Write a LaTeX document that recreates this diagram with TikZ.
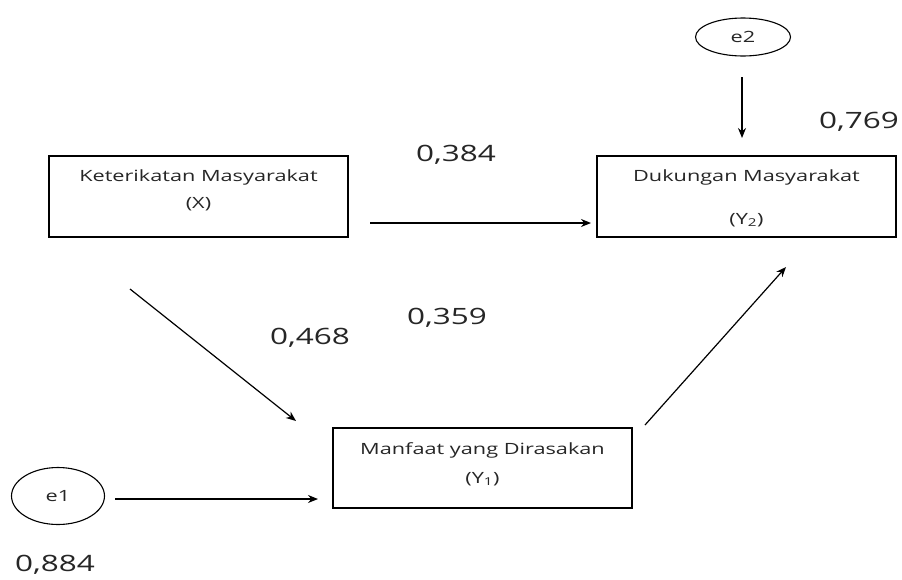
\documentclass[tikz,border=0pt]{standalone}
\usepackage{fontspec}
\setmainfont{Open Sans}
\newfontfamily\widefont[FakeStretch=1.4]{Open Sans}
\usetikzlibrary{arrows.meta,shapes.geometric}
\definecolor{txt}{HTML}{262626}
\tikzset{
  boxnode/.style={draw, line width=1.4pt, minimum width=299pt, minimum height=81pt, inner sep=0pt},
  errnode/.style={draw, ellipse, line width=1.1pt, inner sep=0pt},
  boxtext/.style={font=\widefont\fontsize{15.5}{18}\selectfont, text=txt, inner sep=0pt},
  coef/.style={font=\widefont\fontsize{22.5}{26}\selectfont, text=txt, inner sep=0pt},
  path/.style={-{Stealth[length=10pt,width=8pt]}, line width=1.2pt}
}
\begin{document}
\begin{tikzpicture}[x=1pt,y=-1pt]
\useasboundingbox (0,0) rectangle (902,579);
% boxes
\node[boxnode] (X) at (198.5,196.5) {};
\node[boxnode] (Y2) at (746.5,196.5) {};
\node[boxnode, minimum height=80pt] (Y1) at (482.5,468) {};
% texts in boxes
\node[boxtext] (Xa) at (198.5,177) {Keterikatan Masyarakat};
\node[boxtext] (Xb) at (198.5,204) {(X)};
\node[boxtext] (Y2a) at (746.5,177) {Dukungan Masyarakat};
\node[boxtext] (Y2b) at (746.5,220) {(Y\textsubscript{2})};
\node[boxtext] (Y1a) at (482.5,450) {Manfaat yang Dirasakan};
\node[boxtext] (Y1b) at (482.5,479) {(Y\textsubscript{1})};
% error terms
\node[errnode, minimum width=95pt, minimum height=38pt] (e2) at (743,37) {};
\node[boxtext] (e2t) at (743,37) {e2};
\node[errnode, minimum width=93pt, minimum height=57pt] (e1) at (58,496) {};
\node[boxtext] (e1t) at (58,496) {e1};
% connector end points
\coordinate (a1s) at (370,223);
\coordinate (a1e) at (591,223);
\coordinate (a2s) at (130,289);
\coordinate (a2e) at (296,421);
\coordinate (a3s) at (645,425);
\coordinate (a3e) at (786,267);
\coordinate (a4s) at (742,77);
\coordinate (a4e) at (742,138);
\coordinate (a5s) at (115,499);
\coordinate (a5e) at (318,499);
\draw[path] (a1s) -- (a1e);
\draw[path] (a2s) -- (a2e);
\draw[path] (a3s) -- (a3e);
\draw[path] (a4s) -- (a4e);
\draw[path] (a5s) -- (a5e);
% coefficients
\node[coef] (c1) at (456,155) {0,384};
\node[coef] (c2) at (859,122) {0,769};
\node[coef] (c3) at (310,338) {0,468};
\node[coef] (c4) at (447,318) {0,359};
\node[coef] (c5) at (55,565) {0,884};
\end{tikzpicture}
\end{document}
